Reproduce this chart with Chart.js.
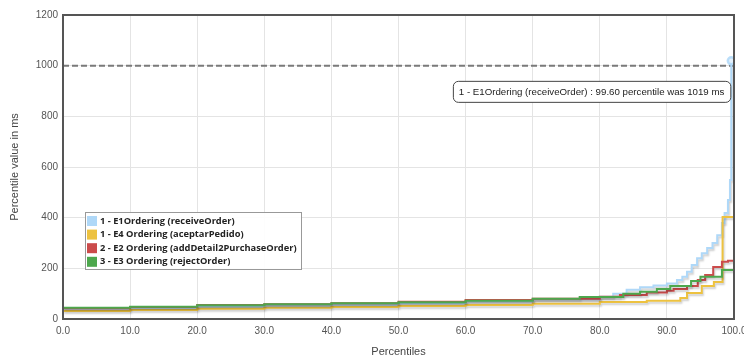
<!DOCTYPE html>
<html>
<head>
<meta charset="utf-8">
<script src="https://cdn.jsdelivr.net/npm/chart.js@4"></script>
<style>
  html, body { margin: 0; padding: 0; background: #fff; }
  #wrap { width: 744px; height: 361px; }
</style>
</head>
<body>
<div id="wrap"><canvas id="c" width="744" height="361"></canvas></div>
<script>
// Response-time percentiles per sampler (percentile, ms); each value holds from its percentile on.
const seriesLabels = [
  '1 - E1Ordering (receiveOrder)',
  '1 - E4 Ordering (aceptarPedido)',
  '2 - E2 Ordering (addDetail2PurchaseOrder)',
  '3 - E3 Ordering (rejectOrder)'
];
const seriesColors = ['#afd8f8', '#edc240', '#cb4b4b', '#4da74d'];

const receiveOrderPct = [0, 10, 20, 30, 40, 50, 60, 70, 80, 82, 84, 86, 88, 90, 91.5, 92.3, 93, 93.7, 94.5, 95.2, 96, 96.8, 97.5, 98.2, 98.6, 99.1, 99.4, 99.6, 100];
const receiveOrderMs  = [40, 44, 48, 52, 56, 62, 70, 78, 88, 100, 115, 125, 132, 140, 154, 167, 187, 213, 240, 260, 280, 300, 331, 379, 418, 470, 549, 1019, 1019];

const aceptarPedidoPct = [0, 10, 20, 30, 40, 50, 60, 70, 80, 87, 92, 93, 95.2, 97, 98.3, 100];
const aceptarPedidoMs  = [32, 36, 40, 44, 47, 51, 55, 60, 67, 72, 83, 103, 130, 146, 403, 403];

const addDetailPct = [0, 10, 20, 30, 40, 50, 60, 70, 80, 83, 87, 90, 91, 93, 94.6, 95.7, 96.9, 98.2, 99.1, 100];
const addDetailMs  = [42, 47, 55, 58, 62, 68, 75, 80, 88, 95, 105, 112, 118, 130, 154, 174, 205, 226, 230, 230];

const rejectOrderPct = [0, 10, 20, 30, 40, 50, 60, 70, 77, 83.5, 86, 88.5, 90.5, 93.6, 95, 98.2, 100];
const rejectOrderMs  = [44, 48, 54, 58, 62, 66, 72, 80, 87, 100, 108, 118, 130, 150, 167, 193, 193];

// Reference threshold and the highlighted sample.
const thresholdMs = 1000;
const highlightPct = 99.6;
const highlightMs = 1019;
const highlightText = '1 - E1Ordering (receiveOrder) : 99.60 percentile was 1019 ms';

const xTicks = { min: 0, max: 100, step: 10 };
const yTicks = { min: 0, max: 1200, step: 200 };

const pairs = (xs, ys) => xs.map((x, i) => ({ x: x, y: ys[i] }));

const seriesData = [
  pairs(receiveOrderPct, receiveOrderMs),
  pairs(aceptarPedidoPct, aceptarPedidoMs),
  pairs(addDetailPct, addDetailMs),
  pairs(rejectOrderPct, rejectOrderMs)
];

const lineSets = seriesData.map((d, i) => ({
  label: seriesLabels[i],
  data: d,
  borderColor: seriesColors[i],
  backgroundColor: seriesColors[i],
  borderWidth: 2,
  stepped: 'before',
  pointRadius: 0,
  fill: false,
  order: 10 - i,
  shadow: true
}));

const thresholdSet = {
  label: 'threshold',
  data: [{ x: xTicks.min, y: thresholdMs }, { x: xTicks.max, y: thresholdMs }],
  borderColor: '#7a7a7a',
  borderWidth: 2,
  borderDash: [6, 3],
  pointRadius: 0,
  order: 20
};

const highlightSet = {
  label: 'highlight',
  type: 'scatter',
  data: [{ x: highlightPct, y: highlightMs }],
  pointRadius: 3.5,
  pointBorderWidth: 2.5,
  pointBorderColor: 'rgba(175,216,248,0.85)',
  pointBackgroundColor: '#e4f0fb',
  order: 0
};

// Soft drop shadow beneath each series line.
const shadowPlugin = {
  id: 'lineShadow',
  beforeDatasetDraw(chart, args) {
    const ds = chart.data.datasets[args.index];
    if (!ds.shadow) return;
    const ctx = chart.ctx;
    ctx.save();
    ctx.shadowColor = 'rgba(0,0,0,0.2)';
    ctx.shadowOffsetX = 1;
    ctx.shadowOffsetY = 2;
    ctx.shadowBlur = 2;
  },
  afterDatasetDraw(chart, args) {
    const ds = chart.data.datasets[args.index];
    if (!ds.shadow) return;
    chart.ctx.restore();
  }
};

// Plot frame, legend box and value annotation.
const decorPlugin = {
  id: 'decor',
  afterDatasetsDraw(chart) {
    const ctx = chart.ctx;
    const a = chart.chartArea;
    const xs = chart.scales.x, ys = chart.scales.y;

    ctx.save();
    ctx.strokeStyle = '#555';
    ctx.lineWidth = 2;
    ctx.strokeRect(a.left, a.top, a.right - a.left, a.bottom - a.top);
    ctx.restore();

    // legend
    ctx.save();
    const lx = 85, ly = 212, lw = 216, lh = 57, rowH = 13.6;
    ctx.fillStyle = 'rgba(255,255,255,0.92)';
    ctx.fillRect(lx, ly, lw, lh);
    ctx.strokeStyle = '#999';
    ctx.lineWidth = 1;
    ctx.strokeRect(lx + 0.5, ly + 0.5, lw, lh);
    ctx.font = 'bold 9.3px "Open Sans", "DejaVu Sans", sans-serif';
    ctx.textBaseline = 'middle';
    lineSets.forEach((s, i) => {
      const cy = ly + 9 + i * rowH;
      ctx.fillStyle = s.borderColor;
      ctx.fillRect(lx + 2, cy - 5, 10, 10);
      ctx.fillStyle = '#222';
      ctx.fillText(s.label, lx + 15, cy);
    });
    ctx.restore();

    // annotation for the highlighted sample
    ctx.save();
    ctx.font = '9.7px "Liberation Sans", Arial, sans-serif';
    const tw = ctx.measureText(highlightText).width;
    const px = xs.getPixelForValue(highlightPct);
    const py = ys.getPixelForValue(highlightMs);
    const bw = tw + 12, bh = 21;
    const bx = px - 1 - bw, by = py + 20;
    ctx.beginPath();
    ctx.roundRect(bx + 0.5, by + 0.5, bw, bh, 5);
    ctx.fillStyle = '#fff';
    ctx.fill();
    ctx.strokeStyle = '#444';
    ctx.lineWidth = 1;
    ctx.stroke();
    ctx.fillStyle = '#222';
    ctx.textBaseline = 'middle';
    ctx.fillText(highlightText, bx + 6, by + bh / 2 + 1);
    ctx.restore();
  }
};

const axisFont = { family: '"Liberation Sans", Arial, sans-serif', size: 10 };
const titleFont = { family: '"Liberation Sans", Arial, sans-serif', size: 11 };

new Chart(document.getElementById('c'), {
  type: 'line',
  data: { datasets: [thresholdSet, ...lineSets, highlightSet] },
  options: {
    responsive: false,
    animation: false,
    devicePixelRatio: 1,
    layout: { padding: { top: 15, right: 10, bottom: 0, left: 0 } },
    plugins: { legend: { display: false }, tooltip: { enabled: false } },
    scales: {
      x: {
        type: 'linear',
        min: xTicks.min,
        max: xTicks.max,
        afterFit(s) { s.height = 42; s.paddingLeft = 0; s.paddingRight = 0; },
        grid: { color: '#e4e4e4', drawTicks: false },
        border: { display: false },
        ticks: {
          stepSize: xTicks.step,
          padding: 6,
          color: '#555',
          font: axisFont,
          maxRotation: 0,
          callback: v => Number(v).toFixed(1)
        },
        title: {
          display: true,
          text: 'Percentiles',
          color: '#444',
          font: titleFont,
          padding: { top: 0, bottom: 2.5 }
        }
      },
      y: {
        min: yTicks.min,
        max: yTicks.max,
        afterFit(s) { s.width = 63; },
        grid: { color: '#e4e4e4', drawTicks: false },
        border: { display: false },
        ticks: {
          stepSize: yTicks.step,
          padding: 5,
          color: '#555',
          font: axisFont,
          callback: v => String(v)
        },
        title: {
          display: true,
          text: 'Percentile value in ms',
          color: '#444',
          font: titleFont,
          padding: { top: 8.5, bottom: 0 }
        }
      }
    }
  },
  plugins: [shadowPlugin, decorPlugin]
});
</script>
</body>
</html>
